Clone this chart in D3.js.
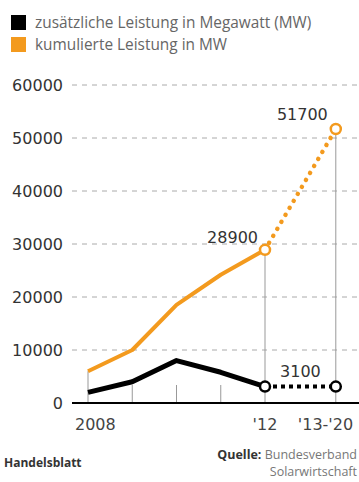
<!DOCTYPE html>
<html>
<head>
<meta charset="utf-8">
<script src="https://cdn.jsdelivr.net/npm/d3@7"></script>
<style>
  body { margin: 0; background: #fff; }
  svg { display: block; font-family: "DejaVu Sans", sans-serif; }
  .tick text { fill: #333; }
</style>
</head>
<body>
<svg id="chart" width="359" height="482"></svg>
<script>
// categories and x keys (last period placed further right)
var labels = ["2008", "", "", "", "'12", "'13-'20"];
var xKeys = [2008, 2009, 2010, 2011, 2012, 2013.6];
var added = [2000, 4000, 8000, 5800, 3100, 3100];       // zusätzliche Leistung MW
var cumulative = [6000, 10000, 18500, 24200, 28900, 51700]; // kumulierte Leistung MW
var yTicks = [0, 10000, 20000, 30000, 40000, 50000, 60000];

var orange = "#f39a1e";
var svg = d3.select("#chart");
var margin = {left: 72, right: 0, top: 85, bottom: 79};
var W = +svg.attr("width"), H = +svg.attr("height");

var x = d3.scaleLinear().domain([2008, 2012]).range([88, 265]);
var y = d3.scaleLinear().domain([0, 60000]).range([H - margin.bottom, margin.top]);

// legend
var legend = [["zusätzliche Leistung in Megawatt (MW)", "#000"], ["kumulierte Leistung in MW", orange]];
legend.forEach(function(d, i) {
  svg.append("rect").attr("x", 11).attr("y", 15 + i * 22).attr("width", 15).attr("height", 15).attr("fill", d[1]);
  svg.append("text").attr("x", 35).attr("y", 28 + i * 22)
    .attr("font-family", "Open Sans").attr("font-size", 15.4).attr("fill", "#666").text(d[0]);
});

// grid
svg.append("g").selectAll("line").data(yTicks.slice(1)).enter().append("line")
  .attr("x1", margin.left).attr("x2", W)
  .attr("y1", function(d) { return y(d); }).attr("y2", function(d) { return y(d); })
  .attr("stroke", "#aaa").attr("stroke-dasharray", "5,5");

// y axis labels
var yAxis = svg.append("g").attr("transform", "translate(" + margin.left + ",0)")
  .call(d3.axisLeft(y).tickValues(yTicks).tickSize(0).tickPadding(9).tickFormat(d3.format("d")));
yAxis.select(".domain").remove();
yAxis.selectAll("text").attr("font-size", 16).attr("font-family", "DejaVu Sans").attr("fill", "#444");

// vertical guide lines
svg.append("g").selectAll("line").data(xKeys).enter().append("line")
  .attr("x1", function(d) { return x(d); }).attr("x2", function(d) { return x(d); })
  .attr("y1", y(0))
  .attr("y2", function(d, i) { return (i === 0 || i >= 4) ? y(cumulative[i]) : y(0) - 18; })
  .attr("stroke", "#999").attr("stroke-width", 1);

// baseline
svg.append("line").attr("x1", margin.left).attr("x2", W).attr("y1", y(0)).attr("y2", y(0))
  .attr("stroke", "#000").attr("stroke-width", 2);

// x labels
svg.append("g").selectAll("text").data(labels).enter().append("text")
  .attr("x", function(d, i) { return i === 0 ? x(xKeys[i]) - 13 : (i === 5 ? x(xKeys[i]) - 38 : x(xKeys[i])); })
  .attr("y", 430)
  .attr("text-anchor", function(d, i) { return i === 4 ? "middle" : "start"; })
  .attr("font-size", 16).attr("fill", "#444").text(function(d) { return d; });

var line = d3.line().x(function(d) { return x(d[0]); }).y(function(d) { return y(d[1]); });
var solidA = xKeys.slice(0, 5).map(function(k, i) { return [k, added[i]]; });
var solidC = xKeys.slice(0, 5).map(function(k, i) { return [k, cumulative[i]]; });
var dashA = [[xKeys[4], added[4]], [xKeys[5], added[5]]];
var dashC = [[xKeys[4], cumulative[4]], [xKeys[5], cumulative[5]]];

svg.append("path").datum(solidC).attr("d", line).attr("fill", "none")
  .attr("stroke", orange).attr("stroke-width", 4).attr("stroke-linejoin", "round");
svg.append("path").datum(dashC).attr("d", line).attr("fill", "none")
  .attr("stroke", orange).attr("stroke-width", 4.5).attr("stroke-linecap", "round")
  .attr("stroke-dasharray", "0.1,8");
svg.append("path").datum(solidA).attr("d", line).attr("fill", "none")
  .attr("stroke", "#000").attr("stroke-width", 5).attr("stroke-linejoin", "round");
svg.append("path").datum(dashA).attr("d", line).attr("fill", "none")
  .attr("stroke", "#000").attr("stroke-width", 4).attr("stroke-dasharray", "4,4");

// end circles
[[added, "#000"], [cumulative, orange]].forEach(function(s) {
  svg.append("g").selectAll("circle").data([4, 5]).enter().append("circle")
    .attr("cx", function(i) { return x(xKeys[i]); })
    .attr("cy", function(i) { return y(s[0][i]); })
    .attr("r", 5).attr("fill", "#fff").attr("stroke", s[1]).attr("stroke-width", 2.5);
});

// value labels
var notes = [[xKeys[4], cumulative[4], "28900", -7, -7, "end"],
             [xKeys[5], cumulative[5], "51700", -8, -9, "end"],
             [xKeys[5], added[5], "3100", -15, -10, "end"]];
svg.append("g").selectAll("text").data(notes).enter().append("text")
  .attr("x", function(d) { return x(d[0]) + d[3]; })
  .attr("y", function(d) { return y(d[1]) + d[4]; })
  .attr("text-anchor", function(d) { return d[5]; })
  .attr("font-size", 16).attr("fill", "#333").text(function(d) { return d[2]; });

// footer
svg.append("text").attr("x", 4).attr("y", 467).attr("font-family", "Open Sans")
  .attr("font-size", 12).attr("font-weight", "bold").attr("fill", "#333").text("Handelsblatt");
var q = svg.append("text").attr("x", 357).attr("y", 459).attr("text-anchor", "end")
  .attr("font-family", "Open Sans").attr("font-size", 12.5).attr("fill", "#777");
q.append("tspan").attr("font-weight", "bold").attr("fill", "#333").text("Quelle: ");
q.append("tspan").text("Bundesverband");
svg.append("text").attr("x", 357).attr("y", 476).attr("text-anchor", "end")
  .attr("font-family", "Open Sans").attr("font-size", 12.5).attr("fill", "#777").text("Solarwirtschaft");
</script>
</body>
</html>
